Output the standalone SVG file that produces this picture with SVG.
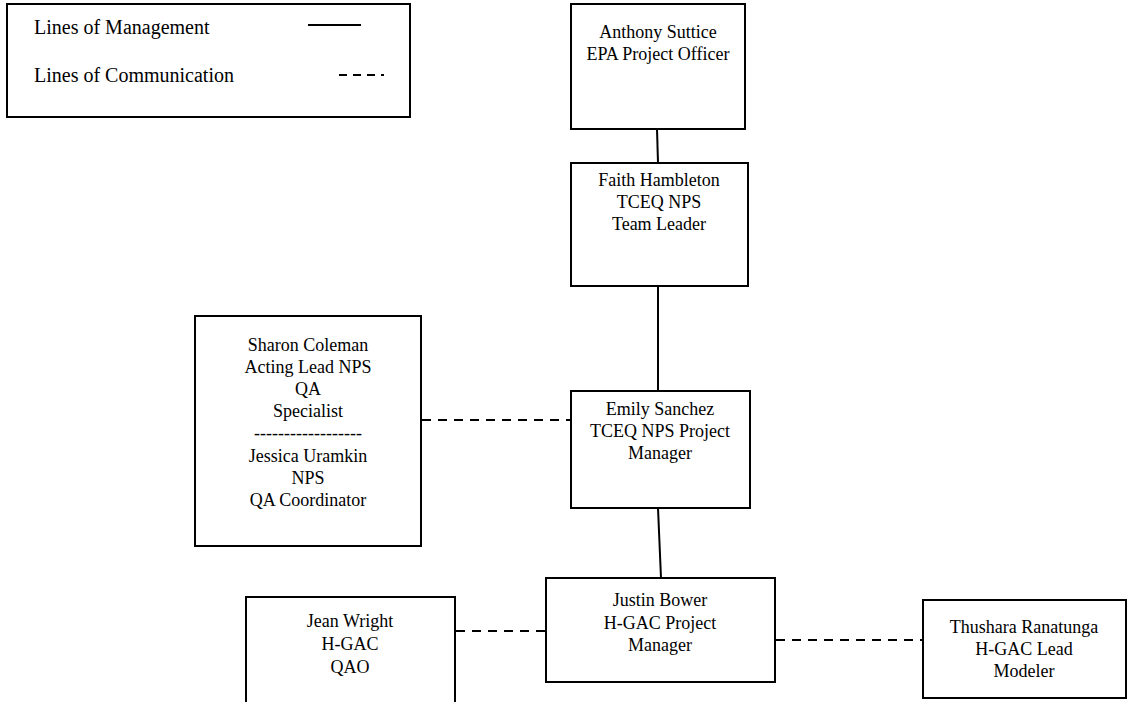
<svg xmlns="http://www.w3.org/2000/svg" width="1139" height="702" viewBox="0 0 1139 702">
<style>
.box{fill:#fff;stroke:#000;stroke-width:2}
.t{font-family:"Liberation Serif","Times New Roman",serif;font-size:18px;fill:#000;text-anchor:middle}
.lg{font-family:"Liberation Serif","Times New Roman",serif;font-size:20px;fill:#000}
.solid{stroke:#000;stroke-width:2;fill:none}
.dash{stroke:#000;stroke-width:2;fill:none;stroke-dasharray:9 7}
.ldash{stroke:#000;stroke-width:2;fill:none;stroke-dasharray:8 6}
</style>
<rect width="1139" height="702" fill="#fff"/>
<g id="legend">
<rect class="box" x="7" y="4" width="403" height="113"/>
<text class="lg" x="34" y="34">Lines of Management</text>
<text class="lg" x="34" y="82">Lines of Communication</text>
<line class="solid" x1="308" y1="25" x2="361" y2="25"/>
<line class="ldash" x1="339" y1="75" x2="384" y2="75"/>
</g>
<g id="connectors">
<line class="solid" x1="657" y1="129" x2="658" y2="163"/>
<line class="solid" x1="658" y1="286" x2="658" y2="391"/>
<line class="solid" x1="658" y1="508" x2="661" y2="578"/>
<line class="dash" x1="422" y1="420" x2="571" y2="420"/>
<line class="dash" x1="456" y1="631" x2="546" y2="631"/>
<line class="dash" x1="776" y1="640" x2="923" y2="640"/>
</g>
<g id="anthony">
<rect class="box" x="571" y="4" width="174" height="125"/>
<text class="t" x="658" y="38">Anthony Suttice</text>
<text class="t" x="658" y="60">EPA Project Officer</text>
</g>
<g id="faith">
<rect class="box" x="571" y="163" width="177" height="123"/>
<text class="t" x="659" y="186">Faith Hambleton</text>
<text class="t" x="659" y="208">TCEQ NPS</text>
<text class="t" x="659" y="230">Team Leader</text>
</g>
<g id="emily">
<rect class="box" x="571" y="391" width="179" height="117"/>
<text class="t" x="660" y="415">Emily Sanchez</text>
<text class="t" x="660" y="437">TCEQ NPS Project</text>
<text class="t" x="660" y="459">Manager</text>
</g>
<g id="sharon">
<rect class="box" x="195" y="316" width="226" height="230"/>
<text class="t" x="308" y="351">Sharon Coleman</text>
<text class="t" x="308" y="373">Acting Lead NPS</text>
<text class="t" x="308" y="395">QA</text>
<text class="t" x="308" y="417">Specialist</text>
<text class="t" x="308" y="439">------------------</text>
<text class="t" x="308" y="462">Jessica Uramkin</text>
<text class="t" x="308" y="484">NPS</text>
<text class="t" x="308" y="506">QA Coordinator</text>
</g>
<g id="justin">
<rect class="box" x="546" y="578" width="229" height="104"/>
<text class="t" x="660" y="606">Justin Bower</text>
<text class="t" x="660" y="629">H-GAC Project</text>
<text class="t" x="660" y="651">Manager</text>
</g>
<g id="jean">
<rect class="box" x="246" y="597" width="209" height="110"/>
<text class="t" x="350" y="627">Jean Wright</text>
<text class="t" x="350" y="650">H-GAC</text>
<text class="t" x="350" y="673">QAO</text>
</g>
<g id="thushara">
<rect class="box" x="923" y="600" width="203" height="98"/>
<text class="t" x="1024" y="633">Thushara Ranatunga</text>
<text class="t" x="1024" y="655">H-GAC Lead</text>
<text class="t" x="1024" y="677">Modeler</text>
</g>
</svg>
